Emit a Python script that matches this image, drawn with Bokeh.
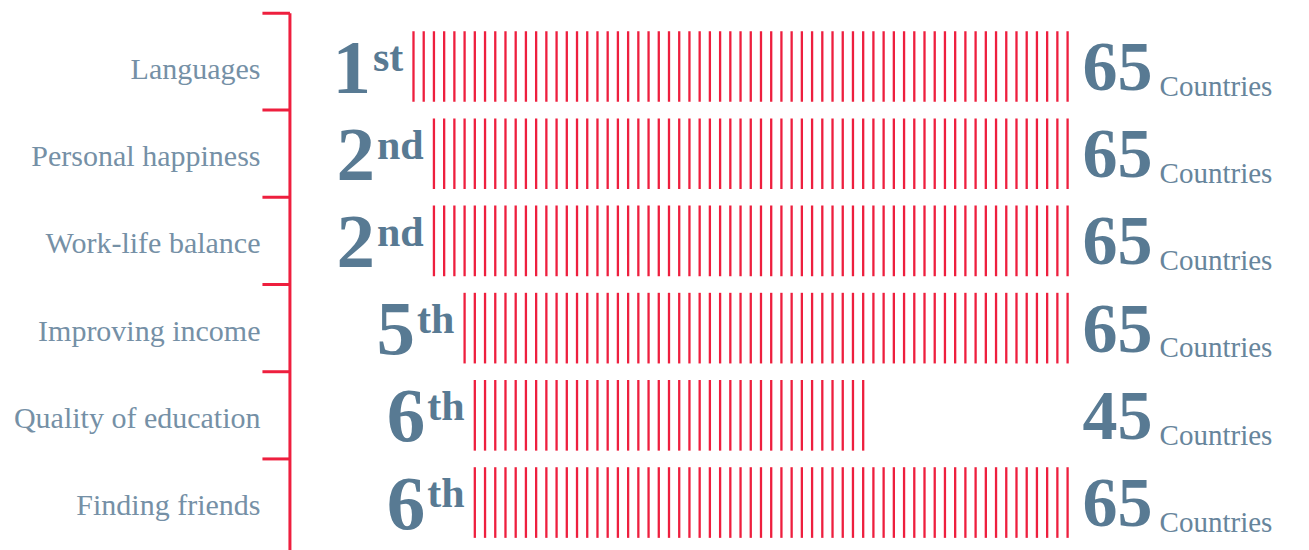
from bokeh.plotting import figure
from bokeh.models import Range1d, ColumnDataSource
from bokeh.core.properties import value
from bokeh.embed import file_html
from bokeh.resources import INLINE

# ---- data ----
categories = ["Languages", "Personal happiness", "Work-life balance",
              "Improving income", "Quality of education", "Finding friends"]
rank_numbers = ["1", "2", "2", "5", "6", "6"]
rank_suffixes = ["st", "nd", "nd", "th", "th", "th"]
total_countries = [65, 65, 65, 65, 45, 65]
first_marker = [1, 3, 3, 6, 7, 7]          # first country marker drawn in each row
unit_label = "Countries"
bracket_edges = [-0.61, 0.5, 1.5, 2.5, 3.5, 4.5]

# ---- style ----
RED = "#ee1f3e"
NUM = "#587a93"
LAB = "#7590a6"
UNIT = "#67859c"
SERIF = "Liberation Serif"
MID = 0.3375  # em distance from middle to alphabetic baseline

W, H = 1309, 550
p = figure(width=W, height=H, output_backend="svg", toolbar_location=None,
           x_range=Range1d(-39.41, 88.67), y_range=Range1d(5.550, -0.757),
           min_border=0, min_border_left=0, min_border_right=0,
           min_border_top=0, min_border_bottom=0)
p.xaxis.visible = False
p.yaxis.visible = False
p.grid.visible = False
p.outline_line_color = None
p.background_fill_color = "white"
p.border_fill_color = "white"

rows = list(range(len(categories)))

# country markers
xs, y0s, y1s = [], [], []
for r in rows:
    for c in range(first_marker[r], total_countries[r] + 1):
        xs.append(c)
        y0s.append(r - 0.405)
        y1s.append(r + 0.405)
p.segment(x0=xs, y0=y0s, x1=xs, y1=y1s, line_color=RED, line_width=2.3)

# bracket on the left
BX = -11.09
TX = -13.78
p.segment(x0=[BX], y0=[bracket_edges[0]], x1=[BX], y1=[6.0],
          line_color=RED, line_width=3)
p.segment(x0=[TX] * len(bracket_edges), y0=bracket_edges,
          x1=[BX] * len(bracket_edges), y1=bracket_edges,
          line_color=RED, line_width=3)

def yoff(base, size):
    return base - MID * size

# category labels
p.text(x=[-13.97] * len(rows), y=rows, text=categories,
       text_font=value(SERIF), text_font_size="30px", text_color=LAB,
       text_align="right", text_baseline="middle", y_offset=yoff(12, 30))

# rank suffix and number
SUF_W = {"s": 0.389, "t": 0.333, "n": 0.556, "d": 0.556, "h": 0.556}
suf_size = 42
num_size = 77
suf_x = [first_marker[r] - 1 for r in rows]
num_offsets = [-(sum(SUF_W[ch] for ch in rank_suffixes[r]) * suf_size + 2) for r in rows]
src = ColumnDataSource(dict(x=suf_x, y=rows, suf=rank_suffixes,
                            num=rank_numbers, off=num_offsets))
p.text(x="x", y="y", text="suf", source=src,
       text_font=value(SERIF), text_font_style="bold",
       text_font_size=f"{suf_size}px", text_color=NUM,
       text_align="right", text_baseline="middle", y_offset=yoff(5, suf_size))
p.text(x="x", y="y", text="num", source=src, x_offset="off",
       text_font=value(SERIF), text_font_style="bold",
       text_font_size=f"{num_size}px", text_color=NUM,
       text_align="right", text_baseline="middle", y_offset=yoff(27, num_size))

# totals on the right
max_total = max(total_countries)
p.text(x=[max_total] * len(rows), y=rows, text=[str(t) for t in total_countries],
       text_font=value(SERIF), text_font_style="bold", text_font_size="70px",
       text_color=NUM, text_align="left", text_baseline="middle",
       x_offset=15, y_offset=yoff(24, 70))
p.text(x=[max_total] * len(rows), y=rows, text=[unit_label] * len(rows),
       text_font=value(SERIF), text_font_size="29px", text_color=UNIT,
       text_align="left", text_baseline="middle",
       x_offset=92, y_offset=yoff(29, 29))

open("out.html", "w").write(file_html(p, INLINE))
